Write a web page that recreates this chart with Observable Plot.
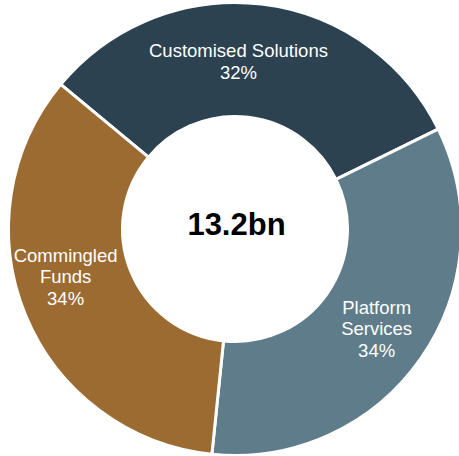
<!DOCTYPE html>
<html><head><meta charset="utf-8">
<script src="https://cdn.jsdelivr.net/npm/d3@7"></script>
<script src="https://cdn.jsdelivr.net/npm/@observablehq/plot@0.6"></script>
<style>body{margin:0;background:#fff;overflow:hidden;}</style>
</head><body><div id="chart"></div>
<script>
// ---- data ----
const segments = ["Customised Solutions", "Platform Services", "Commingled Funds"];
const labelLines = [["Customised Solutions"], ["Platform", "Services"], ["Commingled", "Funds"]];
const shares = [31.7, 33.9, 34.4];
const colors = ["#2c4250", "#5e7c8a", "#9c6b31"];
const totalLabel = "13.2bn";
const labelOffsets = [[-17, 0], [2, 2], [-13, -17]]; // label nudges (px)

// ---- layout ----
const startDeg = -50.3;
const innerRatio = 114 / 225;
const labelRatio = (1 + innerRatio) / 2;
const total = d3.sum(shares);
const start = startDeg * Math.PI / 180;
const pie = d3.pie().sort(null).startAngle(start).endAngle(start + 2 * Math.PI);
const arcs = pie(shares).map((a, i) => {
  const mid = (a.startAngle + a.endAngle) / 2;
  return {
    ...a,
    name: segments[i],
    color: colors[i],
    label: [...labelLines[i], Math.round(shares[i] / total * 100) + "%"].join("\n"),
    lx: labelRatio * Math.sin(mid),
    ly: labelRatio * Math.cos(mid),
    dx: labelOffsets[i][0],
    dy: labelOffsets[i][1]
  };
});

function donutMark(index, scales) {
  const cx = scales.x(0), cy = scales.y(0);
  const R = scales.x(1) - scales.x(0);
  const arcGen = d3.arc().innerRadius(R * innerRatio - 1.5).outerRadius(R + 1.5);
  const g = d3.create("svg:g").attr("transform", `translate(${cx},${cy})`);
  g.selectAll("path").data(arcs).join("path")
    .attr("d", d => arcGen(d))
    .attr("fill", d => d.color)
    .attr("stroke", "#fff")
    .attr("stroke-width", 3)
    .attr("stroke-linejoin", "miter");
  return g.node();
}

const chart = Plot.plot({
  width: 459,
  height: 456,
  margin: 0,
  x: {domain: [-1, 1], range: [10, 460], axis: null},
  y: {domain: [-1, 1], range: [454, 4], axis: null},
  style: {fontFamily: "Arial, 'Liberation Sans', sans-serif", background: "#fff"},
  marks: [
    donutMark,
    ...arcs.map(d => Plot.text([d], {
      x: "lx", y: "ly", text: "label", dx: d.dx, dy: d.dy,
      fill: "#fff", fontSize: 18.5, lineHeight: 1.16, textAnchor: "middle"
    })),
    Plot.text([totalLabel], {
      x: () => 0, y: () => 0, text: d => d, dx: 1, dy: -4,
      fill: "#000", fontSize: 31, fontWeight: "bold", textAnchor: "middle"
    })
  ]
});
document.getElementById("chart").appendChild(chart);
</script>
</body></html>
